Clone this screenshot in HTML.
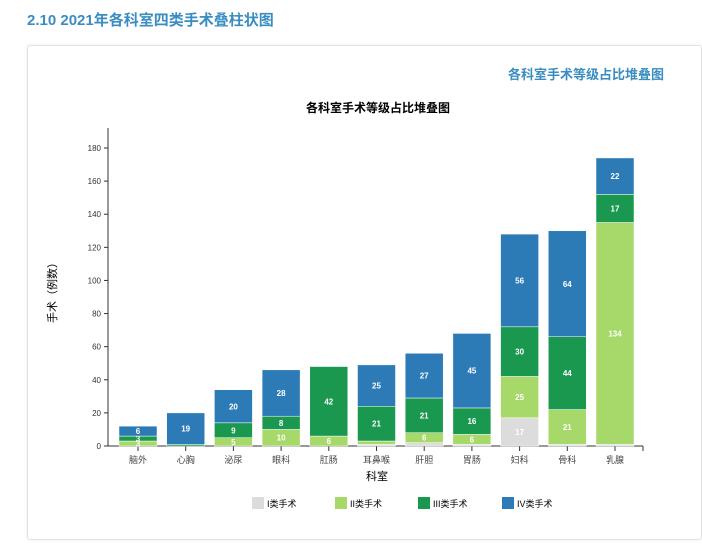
<!DOCTYPE html>
<html><head><meta charset="utf-8"><style>
body{margin:0;width:702px;height:560px;background:#fff;font-family:"Liberation Sans","Noto Sans CJK SC",sans-serif;overflow:hidden;position:relative}
.h{position:absolute;left:27px;top:9px;font-size:15px;font-weight:bold;color:#3a8dc0}
.card{position:absolute;left:27px;top:45px;width:673px;height:493px;border:1px solid #e3e3e3;border-radius:3px;box-shadow:0 0 3px rgba(0,0,0,.08)}
.rt{position:absolute;right:38px;top:64px;font-size:13px;font-weight:bold;color:#3a8dc0}
</style></head><body>
<div class="h">2.10 2021年各科室四类手术叠柱状图</div>
<div class="card"></div>
<div class="rt">各科室手术等级占比堆叠图</div>
<svg id="c" width="702" height="560" style="position:absolute;left:0;top:0"></svg>
<script>
const categories=["脑外","心胸","泌尿","眼科","肛肠","耳鼻喉","肝胆","胃肠","妇科","骨科","乳腺"];
const seriesI=[0,0,0,0,0,1,2,1,17,1,1];
const seriesII=[3,0,5,10,6,2,6,6,25,21,134];
const seriesIII=[3,1,9,8,42,21,21,16,30,44,17];
const seriesIV=[6,19,20,28,0,25,27,45,56,64,22];
const yTicks=[0,20,40,60,80,100,120,140,160,180];
const seriesNames=["I类手术","II类手术","III类手术","IV类手术"];
const colors=["#dcdcdc","#a6d96a","#1a9850","#2c7bb6"];
const S=[seriesI,seriesII,seriesIII,seriesIV];
const ns="http://www.w3.org/2000/svg",svg=document.getElementById('c');
function mk(t,a,txt){const e=document.createElementNS(ns,t);for(const k in a)e.setAttribute(k,a[k]);if(txt!==undefined)e.textContent=txt;svg.appendChild(e);return e;}
const y0=446,yk=298/180;
const yS=v=>y0-v*yk;
const xS=i=>138+i*47.7;
const bw=38;
let t=mk('text',{x:378,y:112,'text-anchor':'middle','font-size':12,'font-weight':'bold',fill:'#000'},'各科室手术等级占比堆叠图');


let ax=mk('line',{x1:108,y1:128,x2:108,y2:y0,stroke:'#333'});


yTicks.forEach(v=>{
 mk('line',{x1:104,x2:108,y1:yS(v),y2:yS(v),stroke:'#333'});
 let l=mk('text',{x:101,y:yS(v)+3,'text-anchor':'end','font-size':8,fill:'#333'},v);
 
 
});
let xa=mk('line',{x1:108,y1:y0,x2:643,y2:y0,stroke:'#333'});


mk('line',{x1:643,y1:y0,x2:643,y2:y0+5,stroke:'#333'});
categories.forEach((c,i)=>{
 const x=xS(i);
 mk('line',{x1:x,x2:x,y1:y0,y2:y0+5,stroke:'#333'});
 let l=mk('text',{x:x,y:y0+17,'text-anchor':'middle','font-size':9,fill:'#444'},c);
 
 
 let acc=0;
 S.forEach((s,k)=>{
  const v=s[i];if(!v)return;
  const r=mk('rect',{x:x-bw/2,y:yS(acc+v),width:bw,height:v*yk,fill:colors[k],stroke:'#fff','stroke-width':0.5});
  
  
  if(v>=3){let tl=mk('text',{x:x,y:yS(acc+v/2)+3,'text-anchor':'middle','font-size':8,'font-weight':'bold',fill:'#fff'},v);
  
  }
  acc+=v;
 });
});
let yt=mk('text',{x:0,y:0,transform:'translate(56,290) rotate(-90)','text-anchor':'middle','font-size':11,fill:'#000'},'手术（例数）');


let xt=mk('text',{x:377,y:480,'text-anchor':'middle','font-size':11,fill:'#000'},'科室');


const lx=[252,335,418,502];
seriesNames.forEach((n,k)=>{
 const r=mk('rect',{x:lx[k],y:497,width:12,height:12,fill:colors[k]});
 
 
 const l=mk('text',{x:lx[k]+15,y:507,'font-size':9,fill:'#000'},n);
 
 
});
</script>
</body></html>
